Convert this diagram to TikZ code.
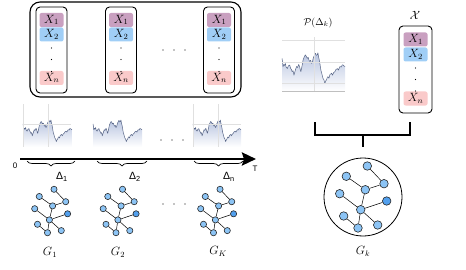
\documentclass[tikz,border=0pt]{standalone}
\usepackage{fontspec}
\setsansfont{Liberation Sans}
\usetikzlibrary{arrows.meta,decorations.pathreplacing}

\definecolor{xone}{RGB}{201,160,192}
\definecolor{xtwo}{RGB}{160,206,246}
\definecolor{xenn}{RGB}{250,202,202}
\definecolor{netfill}{RGB}{140,196,245}
\definecolor{netdark}{RGB}{82,160,238}
\definecolor{pricefill}{RGB}{184,196,224}
\definecolor{priceline}{RGB}{88,102,135}

\tikzset{
  mathlbl/.style={font=\fontsize{11.5}{13}\selectfont},
  xcell/.style={mathlbl, rounded corners=2pt, minimum width=24pt, minimum height=14pt, inner sep=0pt},
  colbox/.style={draw, line width=0.9pt, rounded corners=4pt, minimum width=31pt, inner sep=0pt},
  gnode/.style={circle, draw=black!85, line width=0.6pt, fill=netfill, inner sep=0pt},
  gridline/.style={black!12, line width=0.4pt},
}

% price curve, x in 0..100, height in 0..100 (upwards)
\newcommand{\pricepath}{(0,-64) -- (1,-56) -- (1.6,-48) -- (3,-52) -- (4,-50) -- (5.3,-54)
  -- (6.5,-47) -- (8.5,-44) -- (10,-49) -- (12.2,-51) -- (13.5,-45) -- (15,-42) -- (16,-38)
  -- (17.5,-40) -- (19,-31) -- (20.5,-38) -- (22,-44) -- (23,-48) -- (24.5,-46) -- (26.6,-52)
  -- (28,-47) -- (29,-42) -- (30,-38) -- (31.5,-47) -- (33.5,-61) -- (35,-66) -- (37,-71)
  -- (38.5,-68) -- (40,-64) -- (41.5,-66) -- (43,-60) -- (44,-58) -- (45.5,-60) -- (47,-54)
  -- (48.5,-58) -- (49.5,-64) -- (51,-69) -- (53,-74) -- (54.5,-70) -- (56,-71) -- (57,-75)
  -- (58,-67) -- (59,-62) -- (60,-55) -- (61.7,-41) -- (63,-35) -- (65,-25) -- (66.5,-22)
  -- (68,-15) -- (69.5,-20) -- (70.7,-22) -- (72,-27) -- (73,-28) -- (74.5,-25) -- (76,-32)
  -- (78.7,-35) -- (80,-31) -- (82,-36) -- (84,-38) -- (85.5,-42) -- (88,-44) -- (89.5,-41)
  -- (92,-48) -- (94,-47) -- (95.5,-51) -- (97,-51) -- (98.5,-49) -- (100,-48)}

% #1 left, #2 bottom, #3 width, #4 height
\newcommand{\pricechart}[4]{%
  \begin{scope}[shift={(#1,#2)}, xscale=#3/100, yscale=#4/100]
    \shade[top color=pricefill, bottom color=white] \pricepath -- (100,0) -- (0,0) -- cycle;
    \draw[priceline, line width=0.5pt, line join=round] \pricepath;
  \end{scope}}

% #1 prefix, #2 centre, #3 scale, #4 node size
\newcommand{\stocknet}[4]{%
  \begin{scope}[shift={#2}, scale=#3]
    \foreach \n/\x/\y in {a/4.3/-31, b/-16.7/-20.7, c/21/-13.3, d/2.3/-7.3, e/-23.3/-3.3,
                          g/-2.3/12.7, h/-19.3/19, i/-5/31, j/14.7/28}
      \node[gnode, minimum size=#4] (#1\n) at (\x,\y) {};
    \node[gnode, fill=netdark, minimum size=#4] (#1f) at (23.7,4) {};
    \foreach \u/\v in {b/d, a/c, c/d, d/g, e/g, f/g, g/i, g/j, h/i}
      \draw[line width=0.5pt] (#1\u) -- (#1\v);
  \end{scope}}

\begin{document}
\begin{tikzpicture}[x=1pt, y=-1pt]
    \useasboundingbox (0,0) rectangle (466,270);

    % Feature windows
    \node[draw, line width=1.1pt, rounded corners=10pt, minimum width=211pt, minimum height=95pt] (pool) at (135.5,49.5) {};
    \foreach \c/\x in {1/51.5, 2/121, 3/219} {
        \node[colbox, minimum height=86pt] (col\c) at (\x,50) {};
        \node[xcell, fill=xone] (x\c a) at (\x,20) {$X_1$};
        \node[xcell, fill=xtwo] (x\c b) at (\x,34.5) {$X_2$};
        \node[xcell, fill=xenn] (x\c n) at (\x,78) {$X_n$};
        \foreach \y in {48,59.5,71.5}
            \fill (\x,\y) circle[radius=0.55pt];
    }
    \foreach \x in {163,174,185}
        \fill (\x,50) circle[radius=0.55pt];

    % Price charts
    \pricechart{23}{147}{49}{36}
    \pricechart{93}{147}{49}{36}
    \pricechart{193}{147}{48}{36}
    \foreach \x in {23,193} {
        \draw[gridline] (\x,104) -- (\x,147);
        \draw[gridline] (\x+25,104) -- (\x+25,147);
        \draw[gridline] (\x,124) -- (\x+48,124);
    }
    \foreach \x in {161,172,183}
        \fill (\x,140) circle[radius=0.55pt];

    % Time axis
    \coordinate (tstart) at (20,159);
    \coordinate (tend) at (256,159);
    \draw[line width=2.8pt, -{Stealth[length=14pt, width=13pt, inset=2pt]}] (tstart) -- (tend);
    \node[font=\sffamily\fontsize{8}{9}\selectfont] (t0) at (15,166) {0};
    \node[font=\sffamily\fontsize{8}{9}\selectfont] (tT) at (255,169) {T};

    % Windows
    \draw[decorate, decoration={brace, mirror, amplitude=5pt}, line width=0.7pt] (27,161) -- (75,161);
    \draw[decorate, decoration={brace, mirror, amplitude=5pt}, line width=0.7pt] (97,161) -- (147,161);
    \draw[decorate, decoration={brace, mirror, amplitude=5pt}, line width=0.7pt] (194,161) -- (243,161);
    \node[font=\sffamily\fontsize{10.5}{12}\selectfont] (d1) at (62,177) {Δ\textsubscript{1}};
    \node[font=\sffamily\fontsize{10.5}{12}\selectfont] (d2) at (135,177) {Δ\textsubscript{2}};
    \node[font=\sffamily\fontsize{10.5}{12}\selectfont] (dn) at (229,177) {Δ\textsubscript{n}};

    % Graph sequence
    \stocknet{ga}{(51,211)}{0.7}{6.2pt}
    \stocknet{gb}{(119.5,211)}{0.7}{6.2pt}
    \stocknet{gc}{(217,211)}{0.7}{6.2pt}
    \foreach \x in {163,174,185}
        \fill (\x,204) circle[radius=0.55pt];
    \node[mathlbl] (g1) at (50,252) {$G_1$};
    \node[mathlbl] (g2) at (118,252) {$G_2$};
    \node[mathlbl] (gK) at (218,251) {$G_K$};

    % Window price and features
    \node[font=\fontsize{10}{12}\selectfont] (pk) at (318,23) {$\mathcal{P}(\Delta_k)$};
    \draw[gridline] (282,40) -- (345,40);
    \pricechart{282}{91}{63}{51}
    \draw[gridline] (282,62.5) -- (345,62.5);
    \draw[gridline] (282,83) -- (345,83);
    \draw[gridline] (314,37) -- (314,91);
    \draw[black!25, line width=0.6pt] (282,91) -- (345,91);

    \node[mathlbl] (calx) at (415,15) {$\mathcal{X}$};
    \node[colbox, minimum width=33pt, minimum height=87pt] (xbox) at (415.5,69.5) {};
    \node[xcell, fill=xone] (xka) at (415.5,39.5) {$X_1$};
    \node[xcell, fill=xtwo] (xkb) at (415.5,54.5) {$X_2$};
    \node[xcell, fill=xenn] (xkn) at (415.5,98.5) {$X_n$};
    \foreach \y in {68,79.5,91}
        \fill (415.5,\y) circle[radius=0.55pt];

    % Join
    \coordinate (bl) at (315,122);
    \coordinate (br) at (410,122);
    \coordinate (bj) at (363,135);
    \coordinate (bs) at (363,147);
    \draw[line width=1.6pt] (bl) |- (bj) -| (br);
    \draw[line width=1.6pt] (bj) -- (bs);

    % Window graph
    \node[circle, draw, line width=0.8pt, minimum size=78pt, inner sep=0pt] (gk) at (363,197) {};
    \stocknet{gn}{(363,197)}{1}{8.5pt}
    \node[mathlbl] (gklabel) at (363,251) {$G_k$};
\end{tikzpicture}
\end{document}
